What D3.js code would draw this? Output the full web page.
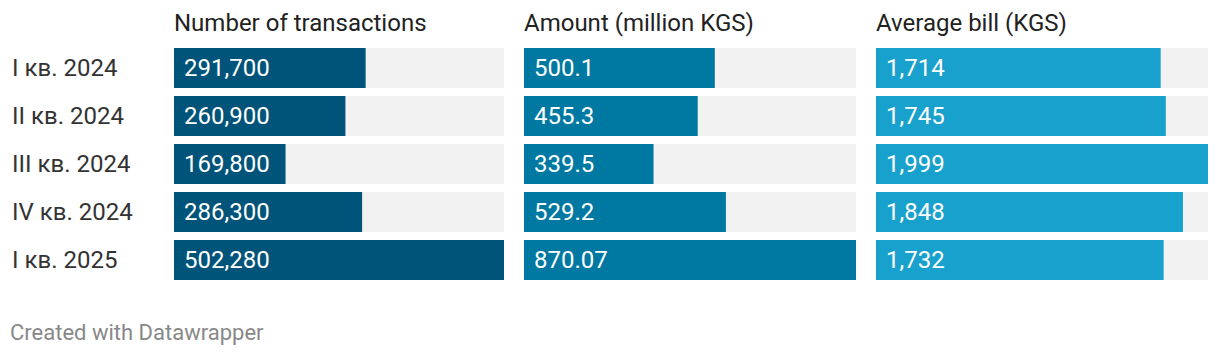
<!DOCTYPE html>
<html><head><meta charset="utf-8">
<script src="https://cdn.jsdelivr.net/npm/d3@7"></script>
<style>
body{margin:0;background:#fff;font-family:Roboto,sans-serif;}
</style></head><body>
<svg id="c" width="1220" height="356"></svg>
<script>
const categories = ["I кв. 2024","II кв. 2024","III кв. 2024","IV кв. 2024","I кв. 2025"];
const columns = ["Number of transactions","Amount (million KGS)","Average bill (KGS)"];
const transactions = [291700,260900,169800,286300,502280];
const amounts = [500.1,455.3,339.5,529.2,870.07];
const avgBill = [1714,1745,1999,1848,1732];
const labelsTransactions = ["291,700","260,900","169,800","286,300","502,280"];
const labelsAmounts = ["500.1","455.3","339.5","529.2","870.07"];
const labelsAvg = ["1,714","1,745","1,999","1,848","1,732"];
const colors = ["#005379","#0079a2","#19a1cd"];

const series = [
  {values: transactions, labels: labelsTransactions},
  {values: amounts, labels: labelsAmounts},
  {values: avgBill, labels: labelsAvg}
];

const svg = d3.select("#c");
const panelStarts = [174, 524, 876];
const panelW = 332;
const yPos = d3.scaleBand().domain(categories).range([48, 48 + 5*48 - 8]).paddingInner(8/48);

svg.selectAll("text.row").data(categories).join("text")
  .attr("class","row")
  .attr("x", 12).attr("y", d => yPos(d) + yPos.bandwidth()/2)
  .attr("dy","0.35em")
  .attr("font-size", 24).attr("fill","#333")
  .text(d => d);

series.forEach((s, i) => {
  const x0 = panelStarts[i];
  const w = i === 0 ? 330 : panelW;
  const x = d3.scaleLinear().domain([0, d3.max(s.values)]).range([0, w]);
  const g = svg.append("g").attr("transform", `translate(${x0},0)`);
  g.append("text").attr("x", 0).attr("y", 23).attr("dy","0.35em")
    .attr("font-size", 24).attr("fill","#222").text(columns[i]);
  g.selectAll("rect.bg").data(categories).join("rect").attr("class","bg")
    .attr("x",0).attr("y", d => yPos(d)).attr("width", w).attr("height", yPos.bandwidth())
    .attr("fill","#f2f2f2");
  g.selectAll("rect.bar").data(s.values).join("rect").attr("class","bar")
    .attr("x",0).attr("y", (d,j) => yPos(categories[j])).attr("width", d => x(d))
    .attr("height", yPos.bandwidth()).attr("fill", colors[i]);
  g.selectAll("text.val").data(s.labels).join("text").attr("class","val")
    .attr("x", 10).attr("y", (d,j) => yPos(categories[j]) + yPos.bandwidth()/2)
    .attr("dy","0.35em").attr("font-size", 24).attr("fill","#fff").text(d => d);
});

svg.append("text").attr("x", 10).attr("y", 332).attr("dy","0.35em")
  .attr("font-size", 22).attr("fill","#888").text("Created with Datawrapper");
</script>
</body></html>
